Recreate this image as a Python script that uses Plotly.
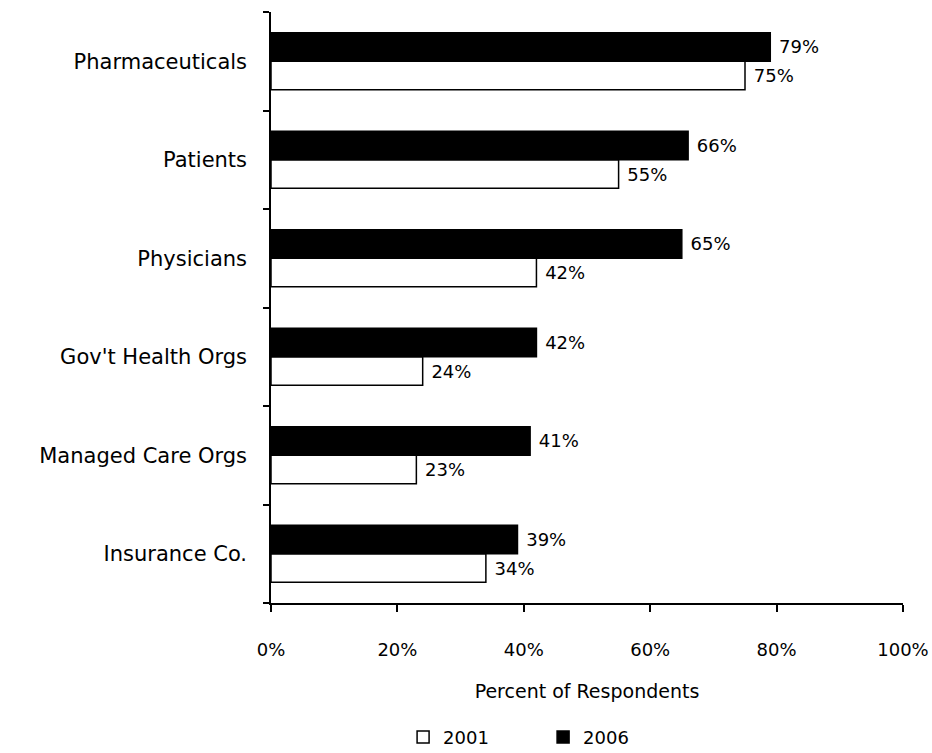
import plotly.graph_objects as go

categories = ["Pharmaceuticals", "Patients", "Physicians", "Gov't Health Orgs",
              "Managed Care Orgs", "Insurance Co."]
values_2001 = [75, 55, 42, 24, 23, 34]
values_2006 = [79, 66, 65, 42, 41, 39]
x_ticks = [0, 20, 40, 60, 80, 100]
x_tick_labels = ["0%", "20%", "40%", "60%", "80%", "100%"]

FONT = "'DejaVu Sans', sans-serif"

fig = go.Figure()
fig.add_trace(go.Bar(
    y=categories, x=values_2001, orientation="h", name="2001",
    marker=dict(color="white", line=dict(color="black", width=1.5)),
    texttemplate=" %{x}%", textposition="outside",
    textfont=dict(size=18, color="black", family=FONT), cliponaxis=False,
))
fig.add_trace(go.Bar(
    y=categories, x=values_2006, orientation="h", name="2006",
    marker=dict(color="black", line=dict(color="black", width=1.5)),
    texttemplate=" %{x}%", textposition="outside",
    textfont=dict(size=18, color="black", family=FONT), cliponaxis=False,
))

fig.update_layout(
    width=932, height=753,
    margin=dict(l=271, r=29, t=12, b=150, autoexpand=False),
    paper_bgcolor="white", plot_bgcolor="white",
    barmode="group", bargap=0.42, bargroupgap=0,
    font=dict(family=FONT, size=18, color="black"),
    showlegend=True,
    legend=dict(orientation="h", traceorder="normal", x=0.209, xanchor="left",
                yref="container", y=0.021, yanchor="middle", entrywidth=95,
                font=dict(size=18, color="black"), itemwidth=30),
    xaxis=dict(range=[0, 100], tickvals=x_ticks, ticktext=x_tick_labels,
               showgrid=False, zeroline=False, showline=True, linecolor="black",
               linewidth=2, ticks="outside", ticklen=7, tickwidth=1.5,
               tickcolor="black", ticklabelstandoff=22, automargin=False,
               tickfont=dict(size=18),
               title=dict(text="Percent of Respondents", standoff=26,
                          font=dict(size=19))),
    yaxis=dict(categoryorder="array", categoryarray=categories[::-1],
               showgrid=False, zeroline=False, showline=True, linecolor="black",
               linewidth=1.5, ticks="outside", tickson="boundaries", ticklen=6,
               tickwidth=1.5, tickcolor="black", ticklabelstandoff=18,
               tickfont=dict(size=21), automargin=False),
)

fig.write_html("out.html")
